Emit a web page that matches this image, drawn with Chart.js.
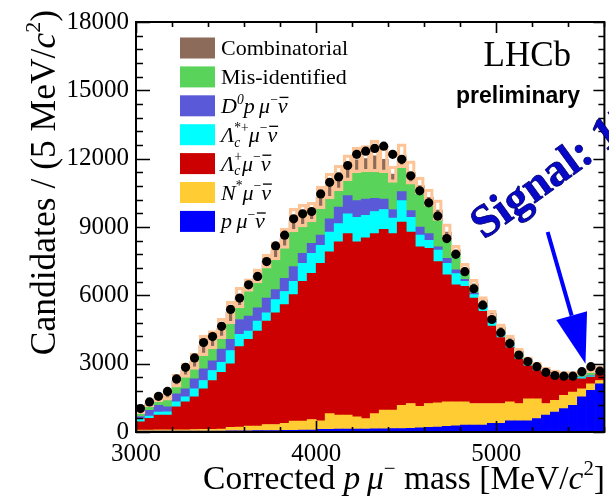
<!DOCTYPE html>
<html>
<head>
<meta charset="utf-8">
<script src="https://cdn.jsdelivr.net/npm/chart.js@4.4.1/dist/chart.umd.min.js"></script>
<style>
  html, body { margin: 0; padding: 0; background: #fff; }
  canvas { display: block; }
</style>
</head>
<body>
<canvas id="grafico" width="609" height="499"></canvas>
<script>
// ================= DATA =================
// bins of 50 MeV from 3000 to 5600 (centres)
const massBins = Array.from({ length: 52 }, (_, i) => 3025 + 50 * i);
const xTicks = [3000, 4000, 5000];
const yTicks = [0, 3000, 6000, 9000, 12000, 15000, 18000];

const dataPoints = [
    1030, 1320, 1565, 1780, 2330, 2840, 3250, 3930, 4190, 4640, 5380, 5880,
    6460, 6830, 7480, 8170, 8640, 9360, 9580, 9680, 10450, 10960, 11200, 11700,
    12190, 12330, 12450, 12550, 12190, 11970, 11250, 10590, 10060, 9480, 8490, 7800,
    7040, 6290, 5570, 4940, 4360, 3880, 3380, 3090, 2870, 2620, 2480, 2450, 2450, 2650, 2870, 2670
];

// stack, from bottom to top
const pMuNu = [
    40, 40, 40, 40, 40, 40, 40, 40, 40, 40, 50, 50,
    50, 60, 60, 60, 70, 70, 80, 80, 120, 120, 130, 130,
    130, 130, 140, 140, 150, 150, 160, 180, 200, 220, 250, 270,
    300, 300, 300, 380, 380, 490, 490, 490, 590, 740, 880, 1030, 1170, 1540, 1830, 2120
];
const nStarMuNu = [
    40, 40, 50, 50, 60, 60, 70, 80, 80, 90, 150, 170,
    210, 200, 270, 270, 310, 410, 400, 470, 370, 690, 610, 610,
    540, 460, 670, 820, 810, 1020, 1090, 950, 1050, 1060, 1070, 1050,
    1020, 950, 950, 870, 870, 830, 760, 970, 870, 510, 510, 580, 580, 360, 290, 140
];
const lcMuNu = [
    370, 515, 650, 650, 1000, 1220, 1430, 1780, 2140, 2490, 2790, 3530,
    3810, 4170, 4540, 4900, 5210, 5550, 6130, 6420, 6920, 7100, 7610, 7970,
    7680, 7930, 7900, 7940, 7750, 8050, 7530, 7000, 6810, 6200, 5580, 5140,
    5070, 4630, 4050, 3400, 2900, 2390, 1950, 1450, 1240, 1300, 1020, 720, 580, 430, 290, 290
];
const lcStarMuNu = [
    110, 105, 140, 150, 220, 220, 360, 360, 440, 440, 580, 540,
    360, 440, 360, 580, 580, 580, 800, 870, 790, 870, 800, 870,
    1080, 990, 970, 870, 680, 940, 650, 510, 360, 510, 510, 490,
    220, 150, 150, 150, 140, 70, 80, 80, 30, 30, 40, 50, 50, 60, 50, 50
];
const d0pMuNu = [
    120, 250, 290, 210, 360, 360, 430, 510, 430, 580, 500, 650,
    660, 580, 650, 440, 580, 650, 430, 440, 440, 580, 720, 800,
    730, 720, 580, 460, 380, 390, 290, 360, 290, 140, 210, 170,
    90, 70, 70, 60, 60, 50, 40, 30, 30, 20, 20, 20, 20, 20, 20, 20
];
const misId = [
    120, 150, 150, 300, 290, 500, 420, 580, 520, 460, 680, 510,
    1080, 1090, 1310, 1300, 1310, 1520, 1160, 940, 1160, 870, 720, 650,
    1230, 1190, 1160, 1160, 1190, 1060, 1160, 1450, 1230, 1160, 800, 680,
    300, 200, 130, 190, 100, 120, 100, 80, 70, 50, 50, 50, 50, 90, 120, 80
];
const combinatorial = [
    150, 150, 180, 250, 280, 300, 350, 450, 400, 450, 500, 450,
    280, 310, 310, 400, 440, 520, 500, 430, 500, 570, 560, 570,
    560, 580, 700, 580, 360, 520, 510, 370, 360, 450, 360, 200,
    200, 200, 150, 150, 150, 150, 130, 100, 120, 100, 100, 100, 100, 100, 150, 100
];

const componentes = [
    { nome: "p mu nu", valores: pMuNu, cor: "#0000ff" },
    { nome: "N* mu nu", valores: nStarMuNu, cor: "#ffcc33" },
    { nome: "Lc mu nu", valores: lcMuNu, cor: "#cc0000" },
    { nome: "Lc* mu nu", valores: lcStarMuNu, cor: "#00ffff" },
    { nome: "D0 p mu nu", valores: d0pMuNu, cor: "#5a5ad8" },
    { nome: "Mis-identified", valores: misId, cor: "#5ad35a" },
    { nome: "Combinatorial", valores: combinatorial, cor: "#8d6b5a" }
];

// legend rows (top to bottom) with rich text pieces
const legendItems = [
    { cor: "#8d6b5a", texto: [{ t: "Combinatorial" }] },
    { cor: "#5ad35a", texto: [{ t: "Mis-identified" }] },
    { cor: "#5a5ad8", texto: [{ t: "D", it: 1 }, { t: "0", it: 1, sup: 1 }, { t: "p", it: 1 }, { t: "\u2009" }, { t: "μ", it: 1 }, { t: "−", sup: 1 }, { t: "ν", it: 1, bar: 1 }] },
    { cor: "#00ffff", texto: [{ t: "Λ", it: 1 }, { t: "c", it: 1, sub: 1, stay: 1 }, { t: "*+", sup: 1 }, { t: "μ", it: 1 }, { t: "−", sup: 1 }, { t: "ν", it: 1, bar: 1 }] },
    { cor: "#cc0000", texto: [{ t: "Λ", it: 1 }, { t: "c", it: 1, sub: 1, stay: 1 }, { t: "+", sup: 1 }, { t: "μ", it: 1 }, { t: "−", sup: 1 }, { t: "ν", it: 1, bar: 1 }] },
    { cor: "#ffcc33", texto: [{ t: "N", it: 1 }, { t: "*", sup: 1 }, { t: "μ", it: 1 }, { t: "−", sup: 1 }, { t: "ν", it: 1, bar: 1 }] },
    { cor: "#0000ff", texto: [{ t: "p", it: 1 }, { t: "\u2009" }, { t: "μ", it: 1 }, { t: "−", sup: 1 }, { t: "ν", it: 1, bar: 1 }] }
];

const tituloX = [{ t: "Corrected " }, { t: "p", it: 1 }, { t: "\u2009" }, { t: "μ", it: 1 }, { t: "−", sup: 1 }, { t: " mass [MeV/" }, { t: "c", it: 1 }, { t: "2", sup: 1 }, { t: "]" }];
const tituloY = [{ t: "Candidates / (5 MeV/" }, { t: "c", it: 1 }, { t: "2", sup: 1 }, { t: ")" }];

// signal arrow, in data units
const setaInicio = { x: 5285, y: 8780 };
const setaFim = { x: 5495, y: 3000 };

const SERIF = '"Liberation Serif", "Times New Roman", serif';

// ================= TEXTO "RICO" =================
function fontePeca(p, size) {
    const fs = (p.sup || p.sub) ? size * 0.62 : size;
    return (p.it ? "italic " : "") + fs.toFixed(1) + "px " + SERIF;
}

function larguraRica(ctx, pecas, size) {
    let w = 0;
    pecas.forEach(p => {
        ctx.font = fontePeca(p, size);
        if (!p.stay) w += ctx.measureText(p.t).width;
    });
    return w;
}

function desenharRico(ctx, pecas, x, y, size) {
    pecas.forEach(p => {
        ctx.font = fontePeca(p, size);
        const dy = p.sup ? -size * 0.42 : (p.sub ? size * 0.22 : 0);
        ctx.fillText(p.t, x, y + dy);
        const w = ctx.measureText(p.t).width;
        if (p.bar) {
            ctx.save();
            ctx.lineWidth = Math.max(1.2, size * 0.06);
            ctx.beginPath();
            ctx.moveTo(x + size * 0.08, y - size * 0.7);
            ctx.lineTo(x + w + size * 0.04, y - size * 0.7);
            ctx.stroke();
            ctx.restore();
        }
        if (!p.stay) x += w;
    });
}

// ================= ENFEITES (moldura, legenda, textos) =================
const enfeites = {
    id: "enfeites",
    afterDraw(chart) {
        const ctx = chart.ctx;
        const a = chart.chartArea;
        const xs = chart.scales.x, ys = chart.scales.y;
        ctx.save();
        ctx.strokeStyle = "#000";
        ctx.fillStyle = "#000";

        // ticks (ROOT style, inside, all four sides)
        ctx.lineWidth = 1.6;
        ctx.beginPath();
        for (let v = 3000; v <= 5600; v += 200) {
            const px = Math.round(xs.getPixelForValue(v)) + 0.5;
            const len = v % 1000 === 0 ? 11 : 5;
            ctx.moveTo(px, a.bottom); ctx.lineTo(px, a.bottom - len);
            ctx.moveTo(px, a.top); ctx.lineTo(px, a.top + len);
        }
        for (let v = 0; v <= 18000; v += 600) {
            const py = Math.round(ys.getPixelForValue(v)) + 0.5;
            const maior = v % 3000 === 0;
            ctx.moveTo(a.left, py); ctx.lineTo(a.left + (maior ? 14 : 7), py);
            ctx.moveTo(a.right, py); ctx.lineTo(a.right - (maior ? 11 : 6), py);
        }
        ctx.stroke();

        // frame
        ctx.lineWidth = 2;
        ctx.strokeRect(a.left, a.top, a.right - a.left, a.bottom - a.top);

        // legend
        legendItems.forEach((item, i) => {
            const cy = 48 + i * 28.9;
            ctx.fillStyle = item.cor;
            ctx.fillRect(180, cy - 10.5, 35, 21);
            ctx.fillStyle = "#000";
            ctx.strokeStyle = "#000";
            desenharRico(ctx, item.texto, 221, cy + 7, 22);
        });

        // axis titles
        const wx = larguraRica(ctx, tituloX, 33.5);
        desenharRico(ctx, tituloX, 605 - wx, 489, 33.5);

        ctx.save();
        ctx.translate(55, 10);
        ctx.rotate(-Math.PI / 2);
        const wy = larguraRica(ctx, tituloY, 35.5);
        desenharRico(ctx, tituloY, -wy, 0, 35.5);
        ctx.restore();

        // LHCb preliminary
        ctx.textAlign = "right";
        ctx.font = "35px " + SERIF;
        ctx.fillText("LHCb", 571, 66);
        ctx.font = 'bold 23px "Liberation Sans", Arial, sans-serif';
        ctx.fillText("preliminary", 580, 103);
        ctx.textAlign = "left";

        // arrow
        const tx = xs.getPixelForValue(setaInicio.x), ty = ys.getPixelForValue(setaInicio.y);
        const hx = xs.getPixelForValue(setaFim.x), hy = ys.getPixelForValue(setaFim.y);
        const dx = hx - tx, dy = hy - ty, d = Math.hypot(dx, dy);
        const ux = dx / d, uy = dy / d;
        const bx = hx - ux * 50, by = hy - uy * 50;
        ctx.strokeStyle = "#0000ff";
        ctx.fillStyle = "#0000ff";
        ctx.lineWidth = 4;
        ctx.beginPath();
        ctx.moveTo(tx, ty); ctx.lineTo(bx, by);
        ctx.stroke();
        ctx.beginPath();
        ctx.moveTo(hx, hy);
        ctx.lineTo(bx - uy * 16, by + ux * 16);
        ctx.lineTo(bx + uy * 16, by - ux * 16);
        ctx.closePath();
        ctx.fill();

        // signal yield (runs off the right edge, as in the original)
        ctx.save();
        ctx.translate(484, 240);
        ctx.rotate(-36 * Math.PI / 180);
        ctx.font = "bold 46px " + SERIF;
        ctx.fillStyle = "#0808c8";
        ctx.fillText("Signal: 17687 ± 733", 0, 0);
        ctx.strokeStyle = "#000070";
        ctx.lineWidth = 0.8;
        ctx.strokeText("Signal: 17687 ± 733", 0, 0);
        ctx.restore();

        ctx.restore();
    }
};

// ================= CHART =================
const totais = massBins.map((_, i) => componentes.reduce((s, c) => s + c.valores[i], 0));

const datasets = [
    {
        type: "line",
        label: "Data",
        data: massBins.map((m, i) => ({ x: m, y: dataPoints[i] })),
        showLine: false,
        pointRadius: 4.6,
        pointBackgroundColor: "#000",
        pointBorderWidth: 0,
        stack: "data"
    },
    {
        type: "bar",
        label: "box",
        data: massBins.map((m, i) => ({ x: m, y: [totais[i] - combinatorial[i], totais[i] + combinatorial[i]] })),
        backgroundColor: "rgba(0,0,0,0)",
        borderColor: "#fdc597",
        borderWidth: 2.6,
        borderSkipped: false,
        grouped: false,
        stack: "box",
        barPercentage: 1,
        categoryPercentage: 1
    }
];
componentes.forEach(c => {
    datasets.push({
        type: "bar",
        label: c.nome,
        data: massBins.map((m, i) => ({ x: m, y: c.valores[i] })),
        backgroundColor: c.cor,
        borderWidth: 0,
        stack: "mc",
        barPercentage: 1,
        categoryPercentage: 1
    });
});

new Chart(document.getElementById("grafico"), {
    type: "bar",
    data: { datasets },
    options: {
        responsive: false,
        animation: false,
        events: [],
        layout: { padding: { left: 0, right: 3, top: 18, bottom: 0 } },
        plugins: { legend: { display: false }, tooltip: { enabled: false } },
        scales: {
            x: {
                type: "linear",
                offset: false,
                min: 3000,
                max: 5600,
                grid: { display: false, drawTicks: false, offset: false },
                border: { display: false },
                afterBuildTicks: s => { s.ticks = xTicks.map(v => ({ value: v })); },
                afterFit: s => { s.height = 67; },
                ticks: {
                    padding: 7,
                    color: "#000",
                    maxRotation: 0,
                    font: { family: SERIF, size: 25 },
                    callback: v => String(v)
                }
            },
            y: {
                stacked: true,
                min: 0,
                max: 18000,
                grid: { display: false, drawTicks: false },
                border: { display: false },
                afterBuildTicks: s => { s.ticks = yTicks.map(v => ({ value: v })); },
                afterFit: s => { s.width = 136; },
                ticks: {
                    padding: 7,
                    color: "#000",
                    font: { family: SERIF, size: 25 },
                    callback: v => String(v)
                }
            }
        }
    },
    plugins: [enfeites]
});
</script>
</body>
</html>
